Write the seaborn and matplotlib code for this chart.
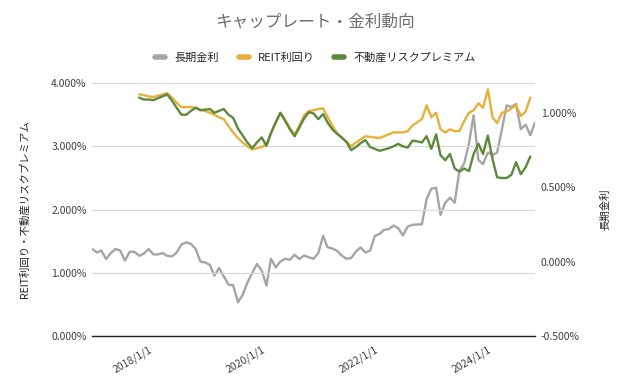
import pandas as pd
import matplotlib.pyplot as plt
import matplotlib.ticker as mticker
from matplotlib.lines import Line2D
import seaborn as sns

# monthly data, 2017/1 - 2024/11
DATES = pd.date_range("2017-01-01", periods=95, freq="MS")

# 長期金利 (%), right axis
JGB = [0.087, 0.062, 0.076, 0.018, 0.058, 0.085, 0.076, 0.007, 0.067, 0.067, 0.040, 0.054,
       0.085, 0.049, 0.049, 0.058, 0.040, 0.036, 0.062, 0.116, 0.130, 0.120, 0.085, 0.002,
       -0.005, -0.022, -0.094, -0.042, -0.098, -0.154, -0.158, -0.272, -0.221, -0.139, -0.076, -0.015,
       -0.058, -0.160, 0.020, -0.038, 0.002, 0.020, 0.013, 0.047, 0.018, 0.042, 0.030, 0.020,
       0.058, 0.174, 0.098, 0.089, 0.074, 0.042, 0.020, 0.025, 0.069, 0.096, 0.062, 0.074,
       0.174, 0.187, 0.214, 0.219, 0.243, 0.226, 0.176, 0.236, 0.248, 0.250, 0.252, 0.420,
       0.490, 0.497, 0.314, 0.397, 0.430, 0.397, 0.611, 0.660, 0.794, 0.984, 0.683, 0.656,
       0.734, 0.716, 0.734, 0.890, 1.050, 1.040, 1.060, 0.890, 0.920, 0.850, 0.935]

# REIT利回り / 不動産リスクプレミアム (%), left axis, 2017/11 - 2024/10
REIT_DATES = DATES[10:94]
REIT = [3.82, 3.81, 3.79, 3.78, 3.80, 3.82, 3.84, 3.77, 3.69, 3.62,
        3.62, 3.62, 3.61, 3.58, 3.56, 3.53, 3.50, 3.46, 3.43, 3.32,
        3.22, 3.13, 3.06, 3.00, 2.95, 2.97, 2.99, 3.03, 3.21, 3.38,
        3.53, 3.42, 3.29, 3.19, 3.33, 3.49, 3.56, 3.57, 3.59, 3.60,
        3.47, 3.33, 3.21, 3.14, 3.08, 3.00, 3.06, 3.11, 3.16, 3.15,
        3.14, 3.13, 3.16, 3.19, 3.22, 3.22, 3.22, 3.24, 3.33, 3.38,
        3.43, 3.65, 3.46, 3.53, 3.27, 3.22, 3.27, 3.24, 3.24, 3.40,
        3.53, 3.57, 3.68, 3.61, 3.90, 3.45, 3.37, 3.53, 3.55, 3.60,
        3.65, 3.48, 3.55, 3.77]
PREMIUM = [3.77, 3.74, 3.74, 3.73, 3.76, 3.79, 3.82, 3.72, 3.61, 3.50,
           3.50, 3.56, 3.61, 3.57, 3.58, 3.59, 3.53, 3.56, 3.59, 3.50,
           3.45, 3.28, 3.17, 3.06, 2.97, 3.06, 3.14, 3.01, 3.21, 3.38,
           3.53, 3.40, 3.27, 3.16, 3.30, 3.44, 3.54, 3.52, 3.43, 3.51,
           3.38, 3.27, 3.20, 3.14, 3.07, 2.94, 2.99, 3.05, 3.10, 2.99,
           2.96, 2.93, 2.95, 2.97, 3.00, 3.04, 3.00, 2.98, 3.09, 3.08,
           3.06, 3.16, 2.96, 3.19, 2.86, 2.78, 2.88, 2.65, 2.60, 2.65,
           2.61, 2.88, 3.04, 2.88, 3.17, 2.79, 2.51, 2.50, 2.50, 2.55,
           2.75, 2.56, 2.67, 2.84]

XTICKS = pd.to_datetime(["2018-01-01", "2020-01-01", "2022-01-01", "2024-01-01"])
XTICK_LABELS = ["2018/1/1", "2020/1/1", "2022/1/1", "2024/1/1"]

GRAY = "#a5a5a5"
GOLD = "#e6b03c"
GREEN = "#5b8a3d"
TEXT = "#404040"

sns.set_theme(style="white")
plt.rcParams["font.family"] = ["Noto Sans CJK JP", "DejaVu Sans"]

fig = plt.figure(figsize=(6.31, 3.90), dpi=100)
ax = fig.add_axes([0.146, 0.138, 0.702, 0.649])
ax2 = ax.twinx()

sns.lineplot(x=REIT_DATES, y=REIT, ax=ax, color=GOLD, linewidth=1.7)
sns.lineplot(x=REIT_DATES, y=PREMIUM, ax=ax, color=GREEN, linewidth=1.7)
sns.lineplot(x=DATES, y=JGB, ax=ax2, color=GRAY, linewidth=1.7)
ax.set_zorder(ax2.get_zorder() + 1)
ax.patch.set_visible(False)

ax.set_xlim(DATES[0], DATES[-1])
ax.set_ylim(0, 4)
ax.set_yticks([0, 1, 2, 3, 4])
ax2.set_ylim(-0.5, 1.2)
ax2.set_yticks([-0.5, 0, 0.5, 1.0])
pct = mticker.FuncFormatter(lambda v, p: f"{v:.3f}%")
ax.yaxis.set_major_formatter(pct)
ax2.yaxis.set_major_formatter(pct)

ax.grid(axis="y", color="#d9d9d9", linewidth=0.9)
ax.grid(axis="x", visible=False)
ax2.grid(False)
for a in (ax, ax2):
    for s in a.spines.values():
        s.set_visible(False)
    a.tick_params(length=0, labelsize=7.5, colors=TEXT, pad=4)
ax.spines["bottom"].set_visible(True)
ax.spines["bottom"].set_color("#222222")
ax.spines["bottom"].set_linewidth(1.0)

ax.set_xticks(XTICKS)
ax.set_xticklabels(XTICK_LABELS, rotation=30, ha="right", rotation_mode="anchor")
ax.tick_params(axis="x", pad=6)

ax.set_ylabel("REIT利回り・不動産リスクプレミアム", fontsize=7.5, color="#222222", labelpad=15)
ax2.set_ylabel("長期金利", fontsize=7.5, color="#222222", labelpad=15)
ax.set_xlabel("")

fig.suptitle("キャップレート・金利動向", y=0.965, fontsize=12, color="#6e6e6e")
handles = [Line2D([], [], color=c, linewidth=4) for c in (GRAY, GOLD, GREEN)]
fig.legend(handles, ["長期金利", "REIT利回り", "不動産リスクプレミアム"],
           loc="center", bbox_to_anchor=(0.5, 0.852), ncol=3, frameon=False,
           fontsize=8, handlelength=0.9, columnspacing=1.8, handletextpad=0.8)

fig.savefig("out.png", dpi=100)
